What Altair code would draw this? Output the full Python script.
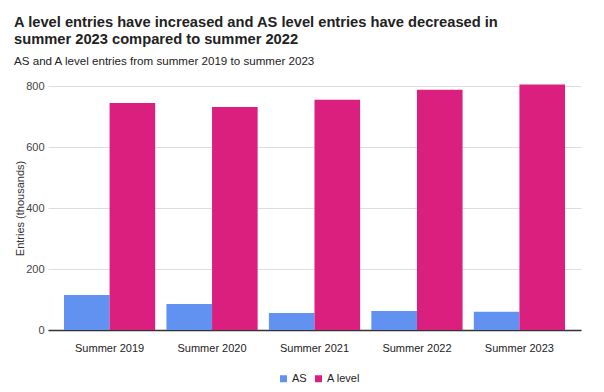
import altair as alt
import pandas as pd

years = ["Summer 2019", "Summer 2020", "Summer 2021", "Summer 2022", "Summer 2023"]
as_level = [115, 85, 56, 62, 60]
a_level = [744, 731, 755, 788, 805]
series = ["AS", "A level"]
colors = ["#6292F1", "#DA1F7F"]

rows = []
for y, a, b in zip(years, as_level, a_level):
    rows.append({"year": y, "series": "AS", "value": a})
    rows.append({"year": y, "series": "A level", "value": b})
df = pd.DataFrame(rows)

FONT = "Liberation Sans"

chart = alt.Chart(df).mark_bar().encode(
    x=alt.X("year:N", sort=years, title=None,
            scale=alt.Scale(paddingInner=0.11, paddingOuter=0.156),
            axis=alt.Axis(labelAngle=0, ticks=False, labelPadding=12,
                          labelFontSize=11, labelColor="#222", labelFont=FONT,
                          domainColor="#333", domainWidth=1.5, grid=False)),
    xOffset=alt.XOffset("series:N", sort=series, scale=alt.Scale(paddingInner=0, paddingOuter=0)),
    y=alt.Y("value:Q", title="Entries (thousands)",
            scale=alt.Scale(domain=[0, 800], nice=False),
            axis=alt.Axis(values=[0, 200, 400, 600, 800], ticks=False, domain=False,
                          labelPadding=4, labelFontSize=11, labelColor="#444", labelFont=FONT,
                          titleFontSize=11, titleFontWeight="normal", titleColor="#333",
                          titleFont=FONT, titlePadding=0,
                          gridColor="#dddddd")),
    color=alt.Color("series:N", sort=series,
                    scale=alt.Scale(domain=series, range=colors),
                    legend=alt.Legend(title=None, orient="none", direction="horizontal",
                                      legendX=230, legendY=287, symbolType="square",
                                      symbolSize=49, symbolStrokeWidth=0,
                                      labelFontSize=11, labelFont=FONT, labelColor="#222",
                                      labelOffset=3, columnPadding=6)),
).properties(
    width=533,
    height=244,
    padding={"left": 40, "top": 78, "right": 15, "bottom": 54},
    autosize=alt.AutoSizeParams(type="none"),
    title=alt.TitleParams(
        text=["A level entries have increased and AS level entries have decreased in",
              "summer 2023 compared to summer 2022"],
        subtitle="AS and A level entries from summer 2019 to summer 2023",
        anchor="start", frame="group", dx=-34, offset=12,
        font=FONT, fontSize=14.7, fontWeight="bold", color="#222", lineHeight=17,
        subtitleFont=FONT, subtitleFontSize=11.6, subtitleColor="#222", subtitlePadding=10,
    ),
).configure_view(stroke=None)

chart.save("out.html", embed_options={"renderer": "svg", "actions": False})
